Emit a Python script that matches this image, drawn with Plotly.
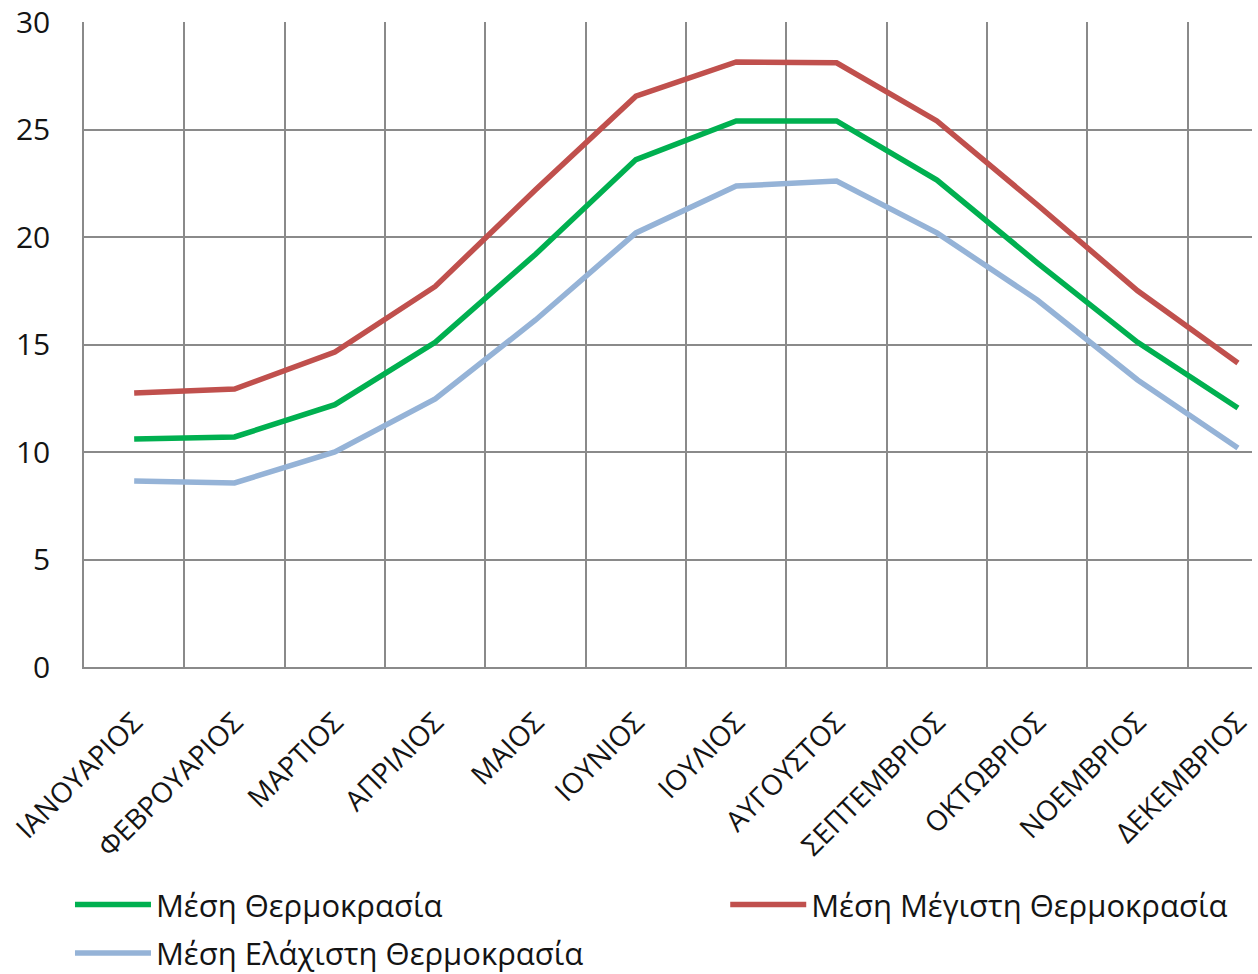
import plotly.graph_objects as go

months = ["ΙΑΝΟΥΑΡΙΟΣ", "ΦΕΒΡΟΥΑΡΙΟΣ", "ΜΑΡΤΙΟΣ", "ΑΠΡΙΛΙΟΣ", "ΜΑΙΟΣ", "ΙΟΥΝΙΟΣ",
          "ΙΟΥΛΙΟΣ", "ΑΥΓΟΥΣΤΟΣ", "ΣΕΠΤΕΜΒΡΙΟΣ", "ΟΚΤΩΒΡΙΟΣ", "ΝΟΕΜΒΡΙΟΣ", "ΔΕΚΕΜΒΡΙΟΣ"]
mean_temp = [10.6, 10.7, 12.2, 15.1, 19.2, 23.6, 25.4, 25.4, 22.65, 18.8, 15.1, 12.05]
max_temp = [12.75, 12.93, 14.65, 17.7, 22.2, 26.55, 28.14, 28.1, 25.4, 21.5, 17.5, 14.14]
min_temp = [8.65, 8.56, 10.0, 12.47, 16.14, 20.19, 22.37, 22.6, 20.19, 17.07, 13.35, 10.19]
y_ticks = [0, 5, 10, 15, 20, 25, 30]

series = [
    ("Μέση Θερμοκρασία", mean_temp, "#00B050", "legend", "g1"),
    ("Μέση Μέγιστη Θερμοκρασία", max_temp, "#C0504D", "legend2", "g2"),
    ("Μέση Ελάχιστη Θερμοκρασία", min_temp, "#95B3D7", "legend", "g3"),
]

fig = go.Figure()
for name, vals, col, leg, grp in series:
    fig.add_trace(go.Scatter(x=months, y=vals, name=name, mode="lines",
                             legend=leg, legendgroup=grp,
                             line=dict(color=col, width=5.5)))

FONT = "Open Sans"
TXT = "#141414"
leg_common = dict(orientation="v", yanchor="top", xanchor="left",
                  xref="paper", yref="container",
                  font=dict(family=FONT, size=31, color=TXT),
                  itemwidth=76, tracegroupgap=5, bgcolor="rgba(0,0,0,0)")
fig.update_layout(
    width=1258, height=974,
    margin=dict(l=84, r=6, t=22, b=307),
    paper_bgcolor="white", plot_bgcolor="white",
    font=dict(family=FONT, color=TXT, size=24),
    showlegend=True,
    legend=dict(x=-0.012, y=0.0986, **leg_common),
    legend2=dict(x=0.549, y=0.0986, **leg_common),
)
fig.update_xaxes(
    type="category", range=[-0.5, 11.14], automargin=False,
    tickson="boundaries", showgrid=True, gridcolor="#8a8a8a", gridwidth=1.5,
    showline=True, linecolor="#8a8a8a", linewidth=1.5,
    tickangle=-45, ticks="", ticklabelstandoff=26, ticklabeloverflow="allow",
    tickfont=dict(family=FONT, size=28, color=TXT),
)
fig.update_yaxes(
    range=[0, 30], tickvals=y_ticks, automargin=False,
    showgrid=True, gridcolor="#8a8a8a", gridwidth=1.5,
    showline=True, linecolor="#8a8a8a", linewidth=1.5, zeroline=False,
    ticks="", ticklabelstandoff=26, ticklabeloverflow="allow",
    tickfont=dict(family=FONT, size=30, color=TXT),
)
fig.write_html("out.html", config={"displayModeBar": False},
               post_script="document.body.style.margin='0px';")
